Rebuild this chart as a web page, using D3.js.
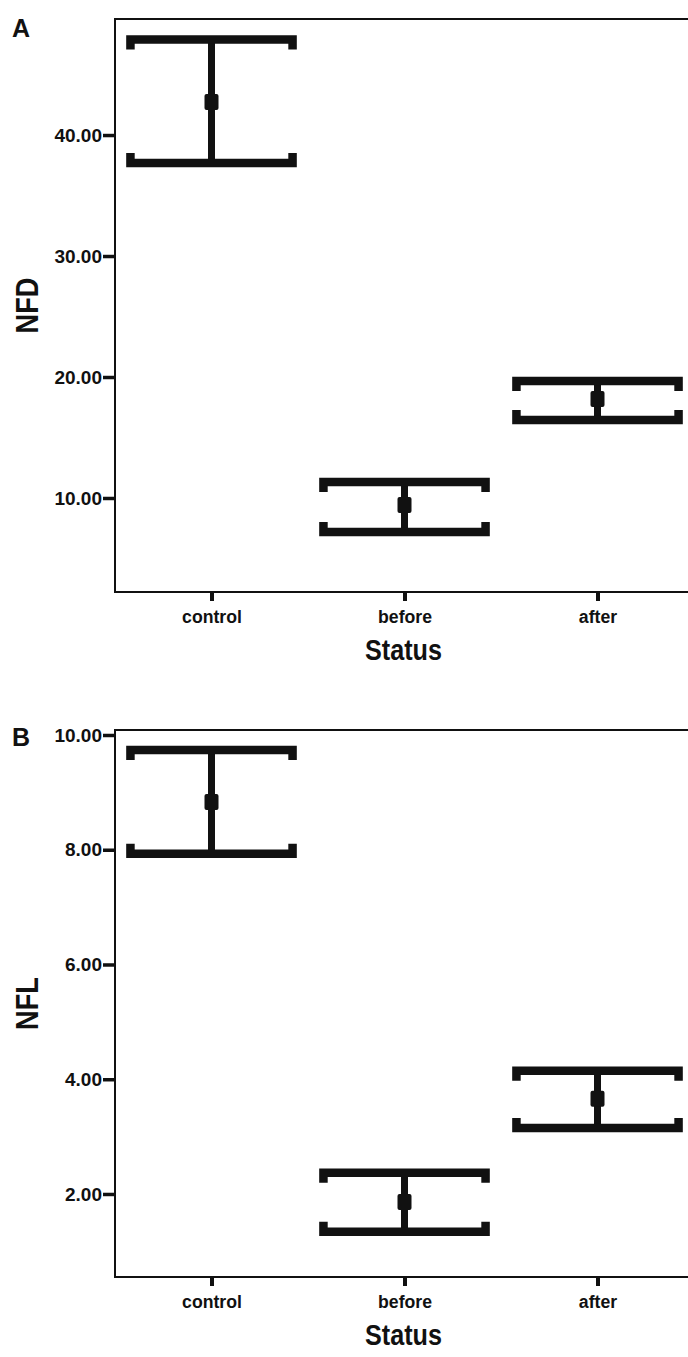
<!DOCTYPE html>
<html><head><meta charset="utf-8">
<script src="https://cdn.jsdelivr.net/npm/d3@7"></script>
<style>
html,body{margin:0;padding:0;background:#fff;}
svg{display:block;}
text{font-family:"Liberation Sans",Arial,Helvetica,sans-serif;font-weight:bold;fill:#111;}
</style>
</head><body>
<svg id="chart" width="688" height="1357"></svg>
<script>
// ---- data ----
const categories = ["control", "before", "after"];
const nfdMean  = [42.73, 9.42, 18.18];
const nfdLower = [37.69, 7.19, 16.45];
const nfdUpper = [47.89, 11.32, 19.67];
const nfdTicks = [10, 20, 30, 40];
const nflMean  = [8.83, 1.86, 3.66];
const nflLower = [7.93, 1.34, 3.15];
const nflUpper = [9.74, 2.37, 4.15];
const nflTicks = [2, 4, 6, 8, 10];
const xTitle = "Status";

const svg = d3.select("#chart");
const ink = "#111";

const panels = [
  {letter: "A", title: "NFD", mean: nfdMean, lower: nfdLower, upper: nfdUpper, ticks: nfdTicks,
   domain: [2.23, 49.59], top: 19, bottom: 592, letterY: 37},
  {letter: "B", title: "NFL", mean: nflMean, lower: nflLower, upper: nflUpper, ticks: nflTicks,
   domain: [0.553, 10.087], top: 730, bottom: 1277, letterY: 746}
];

const left = 115, right = 694;

panels.forEach(p => {
  const g = svg.append("g");
  const x = d3.scalePoint().domain(categories).range([left, right]).padding(0.5);
  const y = d3.scaleLinear().domain(p.domain).range([p.bottom, p.top]);

  // y axis
  const ya = g.append("g").attr("transform", `translate(${left},0)`)
    .call(d3.axisLeft(y).tickValues(p.ticks).tickFormat(d3.format(".2f")).tickSize(12).tickPadding(1));
  ya.select(".domain").remove();
  ya.selectAll(".tick line").attr("stroke", ink).attr("stroke-width", 3.5);
  ya.selectAll(".tick text").attr("font-size", 19).attr("fill", ink)
    .style("font-family", '"Liberation Sans",Arial,sans-serif').style("font-weight", "bold");

  // x axis
  const xa = g.append("g").attr("transform", `translate(0,${p.bottom})`)
    .call(d3.axisBottom(x).tickSize(9));
  xa.select(".domain").remove();
  xa.selectAll(".tick line").attr("stroke", ink).attr("stroke-width", 4);
  xa.selectAll(".tick text").attr("y", 0).attr("dy", 0)
    .attr("transform", "translate(0,31) scale(0.93,1)")
    .attr("font-size", 19).attr("fill", ink)
    .style("font-family", '"Liberation Sans",Arial,sans-serif').style("font-weight", "bold");

  // frame
  g.append("rect").attr("x", left).attr("y", p.top)
    .attr("width", right - left).attr("height", p.bottom - p.top)
    .attr("fill", "none").attr("stroke", ink).attr("stroke-width", 2);

  // error bars
  const hw = x.step() * 0.42;
  const hook = 10;
  categories.forEach((c, i) => {
    const cx = x(c);
    const yU = y(p.upper[i]), yL = y(p.lower[i]), yM = y(p.mean[i]);
    g.append("line").attr("x1", cx).attr("x2", cx).attr("y1", yU).attr("y2", yL)
      .attr("stroke", ink).attr("stroke-width", 7);
    g.append("path")
      .attr("d", `M${cx - hw},${yU + hook}L${cx - hw},${yU}L${cx + hw},${yU}L${cx + hw},${yU + hook}`)
      .attr("fill", "none").attr("stroke", ink).attr("stroke-width", 8.5);
    g.append("path")
      .attr("d", `M${cx - hw},${yL - hook}L${cx - hw},${yL}L${cx + hw},${yL}L${cx + hw},${yL - hook}`)
      .attr("fill", "none").attr("stroke", ink).attr("stroke-width", 8.5);
    g.append("rect").attr("x", cx - 7).attr("y", yM - 8).attr("width", 14).attr("height", 16)
      .attr("rx", 2).attr("fill", ink);
  });

  // panel letter
  g.append("text").attr("x", 12).attr("y", p.letterY).attr("font-size", 25).text(p.letter);

  // y title
  g.append("text")
    .attr("transform", `translate(38,${(p.top + p.bottom) / 2}) rotate(-90) scale(0.85,1)`)
    .attr("text-anchor", "middle").attr("font-size", 32).text(p.title);

  // x title
  g.append("text")
    .attr("transform", `translate(${(left + 688) / 2 + 2},${p.bottom + 68}) scale(0.84,1)`)
    .attr("text-anchor", "middle").attr("font-size", 30).text(xTitle);
});
</script>
</body></html>
